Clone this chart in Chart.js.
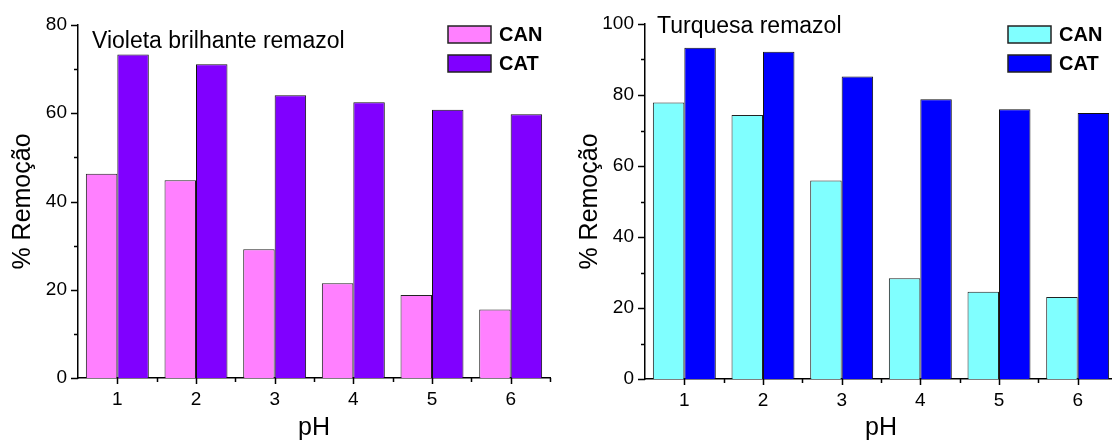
<!DOCTYPE html>
<html>
<head>
<meta charset="utf-8">
<title>% Remoção x pH</title>
<script src="https://cdn.jsdelivr.net/npm/chart.js@4.4.1/dist/chart.umd.min.js"></script>
<style>
    html, body { margin: 0; padding: 0; background: #fff; overflow: hidden; }
    body { width: 1112px; height: 441px; position: relative; }
    canvas { position: absolute; top: 0; }
    #violeta { left: 0; }
    #turquesa { left: 560px; }
</style>
</head>
<body>
<canvas id="violeta" width="560" height="441"></canvas>
<canvas id="turquesa" width="600" height="441"></canvas>
<script>
var PH = ['1', '2', '3', '4', '5', '6'];
var SERIES = ['CAN', 'CAT'];

var VIOLETA_CAN = [46.3, 44.8, 29.2, 21.5, 18.8, 15.5];
var VIOLETA_CAT = [73.3, 71.1, 64.1, 62.5, 60.8, 59.8];
var VIOLETA_MAX = 80;

var TURQUESA_CAN = [77.9, 74.4, 55.9, 28.4, 24.6, 23.1];
var TURQUESA_CAT = [93.3, 92.2, 85.2, 78.8, 76.0, 74.9];
var TURQUESA_MAX = 100;

var FONTE = '"Liberation Sans", Arial, Helvetica, sans-serif';
Chart.defaults.font.family = FONTE;
Chart.defaults.color = '#000';

/**
 * Marcas dos eixos (maiores e menores), texto do corante e legenda
 * desenhados por cima do gráfico
 */
var marcas = {
    id: 'marcas',
    afterDraw: function (chart, args, opts) {
        var ctx = chart.ctx;
        var area = chart.chartArea;
        var x = chart.scales.x;
        var y = chart.scales.y;

        ctx.save();
        ctx.strokeStyle = '#000';
        ctx.lineWidth = 1.5;
        ctx.beginPath();

        // eixo Y: maiores a cada 20, menores a cada 10
        for (var v = 0; v <= y.max; v += 10) {
            var py = Math.round(y.getPixelForValue(v)) + 0.5;
            var tam = v % 20 === 0 ? 7 : 4;
            ctx.moveTo(area.left - tam, py);
            ctx.lineTo(area.left, py);
        }

        // eixo X: maiores nos valores de pH, menores entre eles
        for (var i = 0; i < PH.length; i++) {
            var px = Math.round(x.getPixelForValue(i)) + 0.5;
            ctx.moveTo(px, area.bottom);
            ctx.lineTo(px, area.bottom + 6);
            var pm = Math.round(x.getPixelForValue(i + 0.5)) + 0.5;
            ctx.moveTo(pm, area.bottom);
            ctx.lineTo(pm, area.bottom + 4);
        }
        ctx.stroke();

        // nome do corante
        ctx.fillStyle = '#000';
        ctx.font = '23px ' + FONTE;
        ctx.textBaseline = 'alphabetic';
        ctx.textAlign = 'left';
        ctx.fillText(opts.nota, area.left + opts.notaX, area.top + opts.notaY);

        // legenda
        ctx.font = 'bold 20px ' + FONTE;
        ctx.textBaseline = 'middle';
        chart.data.datasets.forEach(function (ds, k) {
            var bx = opts.legX;
            var by = opts.legY + k * 29;
            ctx.fillStyle = ds.backgroundColor;
            ctx.fillRect(bx, by, 43, 17);
            ctx.strokeStyle = '#222';
            ctx.lineWidth = 1.5;
            ctx.strokeRect(bx, by, 43, 17);
            ctx.fillStyle = '#000';
            ctx.fillText(ds.label, bx + 51, by + 9.5);
        });
        ctx.restore();
    }
};

function montarGrafico(id, can, cat, maximo, cores, extra) {
    var ctx = document.getElementById(id).getContext('2d');
    return new Chart(ctx, {
        type: 'bar',
        data: {
            labels: PH,
            datasets: [{
                label: SERIES[0],
                data: can,
                backgroundColor: cores[0],
                borderColor: '#222',
                borderWidth: 1
            }, {
                label: SERIES[1],
                data: cat,
                backgroundColor: cores[1],
                borderColor: '#111',
                borderWidth: 1
            }]
        },
        plugins: [marcas],
        options: {
            responsive: false,
            animation: false,
            events: [],
            datasets: {
                bar: { categoryPercentage: 0.8, barPercentage: 1.0 }
            },
            layout: {
                padding: { left: 0, right: extra.padRight, top: extra.padTop, bottom: 0 }
            },
            scales: {
                x: {
                    type: 'category',
                    offset: true,
                    grid: { display: false, drawTicks: false },
                    border: { display: true, color: '#000', width: 1.5 },
                    ticks: { color: '#000', font: { size: 19 }, padding: 10 },
                    title: {
                        display: true,
                        text: 'pH',
                        color: '#000',
                        font: { size: 25, lineHeight: 1 },
                        padding: { top: 0, bottom: 0 }
                    },
                    afterFit: function (s) { s.height = extra.altX; }
                },
                y: {
                    min: 0,
                    max: maximo,
                    grid: { display: false, drawTicks: false },
                    border: { display: true, color: '#000', width: 1.5 },
                    ticks: { stepSize: 20, color: '#000', font: { size: 19 }, padding: 11 },
                    title: {
                        display: true,
                        text: '% Remoção',
                        color: '#000',
                        font: { size: 25, lineHeight: 1 },
                        padding: { top: extra.padTitY, bottom: 0 }
                    },
                    afterFit: function (s) { s.width = extra.largY; }
                }
            },
            plugins: {
                legend: { display: false },
                tooltip: { enabled: false },
                marcas: {
                    nota: extra.nota,
                    notaX: extra.notaX,
                    notaY: extra.notaY,
                    legX: 448,
                    legY: 26
                }
            }
        }
    });
}

montarGrafico('violeta', VIOLETA_CAN, VIOLETA_CAT, VIOLETA_MAX, ['#ff80ff', '#8000ff'], {
    nota: 'Violeta brilhante remazol',
    notaX: 14, notaY: 23,
    padRight: 10, padTop: 25,
    altX: 63, largY: 78, padTitY: 11
});

montarGrafico('turquesa', TURQUESA_CAN, TURQUESA_CAT, TURQUESA_MAX, ['#80ffff', '#0000ff'], {
    nota: 'Turquesa remazol',
    notaX: 12, notaY: 9,
    padRight: 43, padTop: 24,
    altX: 62, largY: 85, padTitY: 18
});
</script>
</body>
</html>
